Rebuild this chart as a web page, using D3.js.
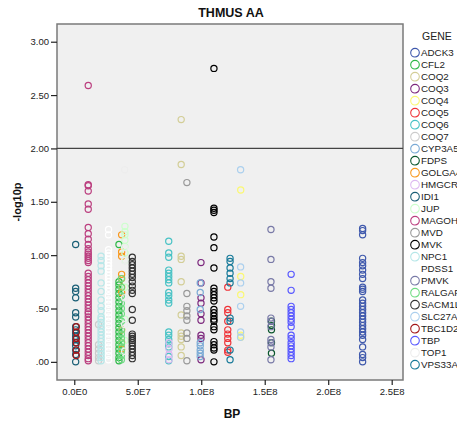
<!DOCTYPE html>
<html lang="en">
<head>
<meta charset="UTF-8">
<title>THMUS AA</title>
<script src="https://d3js.org/d3.v7.min.js"></script>
<style>
    body { margin: 0; background: #fff; font-family: "Liberation Sans", Arial, sans-serif; }
    .tick text { font-size: 9.5px; fill: #222; }
    .title, .axis-label { font-weight: bold; fill: #111; }
</style>
</head>
<body>
<div id="chart"></div>
<script>
    // Genes in legend order, and the base pair position of each gene
    const genes = ["ADCK3", "CFL2", "COQ2", "COQ3", "COQ4", "COQ5", "COQ6", "COQ7", "CYP3A5",
        "FDPS", "GOLGA4", "HMGCR", "IDI1", "JUP", "MAGOH", "MVD", "MVK", "NPC1", "PDSS1",
        "PMVK", "RALGAPB", "SACM1L", "SLC27A4", "TBC1D20", "TBP", "TOP1", "VPS33A"];

    const geneBP = [227.1e6, 35.2e6, 84.2e6, 99.8e6, 131.1e6, 120.9e6, 74.4e6, 19.1e6, 99.2e6,
        155.3e6, 37.3e6, 74.6e6, 1.1e6, 39.9e6, 11.0e6, 88.7e6, 110.0e6, 21.1e6, 27.0e6,
        154.9e6, 37.1e6, 45.7e6, 131.0e6, 1.6e6, 170.8e6, 39.66e6, 122.7e6];

    // -log10p values, one list per gene
    const logP = {
        ADCK3: [1.25, 1.23, 1.19, 0.97, 0.93, 0.90, 0.86, 0.82, 0.78, 0.70, 0.68, 0.66, 0.58, 0.55,
            0.52, 0.49, 0.46, 0.43, 0.40, 0.37, 0.34, 0.31, 0.28, 0.25, 0.21, 0.14, 0.07, 0.04, 0.00],
        CFL2: [1.10, 0.75, 0.72, 0.68, 0.64, 0.60, 0.56, 0.52, 0.48, 0.44, 0.40, 0.36, 0.32, 0.28,
            0.24, 0.20, 0.16, 0.12, 0.08, 0.04, 0.01],
        COQ2: [2.27, 1.85, 0.99, 0.96, 0.75, 0.44, 0.27, 0.24, 0.21, 0.14, 0.06],
        COQ3: [0.93, 0.74, 0.60, 0.55, 0.45, 0.39, 0.25, 0.22, 0.02],
        COQ4: [1.61, 0.80, 0.63, 0.25, 0.23],
        COQ5: [0.70, 0.49, 0.46, 0.38, 0.30, 0.26, 0.22, 0.18, 0.11, 0.09],
        COQ6: [1.13, 1.02, 0.98, 0.86, 0.83, 0.80, 0.77, 0.74, 0.65, 0.62, 0.58, 0.55, 0.28, 0.25,
            0.21, 0.17, 0.14, 0.05, 0.01],
        COQ7: [0.35, 0.16, 0.12, 0.08, 0.04, 0.01],
        CYP3A5: [0.74, 0.65, 0.49, 0.18, 0.15, 0.11, 0.08, 0.05],
        FDPS: [0.38, 0.34, 0.30, 0.18, 0.08],
        GOLGA4: [1.19, 1.03, 0.99, 0.82, 0.78, 0.70, 0.65, 0.30, 0.18, 0.12],
        HMGCR: [0.18, 0.12, 0.07, 0.02],
        IDI1: [1.10, 0.69, 0.66, 0.60, 0.46, 0.42, 0.33, 0.30, 0.27, 0.24, 0.21, 0.18, 0.15, 0.11,
            0.07, 0.00],
        JUP: [1.27, 1.22, 1.19, 1.14, 1.08, 1.02, 0.95, 0.70, 0.40, 0.20],
        MAGOH: [2.59, 1.66, 1.65, 1.60, 1.48, 1.43, 1.26, 1.20, 1.15, 1.10, 1.06, 1.03, 1.01, 0.99,
            0.97, 0.95, 0.93, 0.83, 0.80, 0.77, 0.74, 0.71, 0.68, 0.65, 0.62, 0.59, 0.56, 0.53, 0.50,
            0.47, 0.45, 0.42, 0.39, 0.36, 0.33, 0.30, 0.27, 0.24, 0.21, 0.18, 0.15, 0.12, 0.09, 0.06,
            0.03, 0.01],
        MVD: [1.68, 0.64, 0.52, 0.48, 0.43, 0.39, 0.27, 0.22, 0.01],
        MVK: [2.75, 1.44, 1.42, 1.40, 1.17, 1.07, 0.88, 0.69, 0.66, 0.63, 0.60, 0.57, 0.49, 0.46,
            0.43, 0.40, 0.38, 0.33, 0.30, 0.19, 0.16, 0.13, 0.11, 0.00],
        NPC1: [0.99, 0.95, 0.90, 0.85, 0.74, 0.66, 0.58, 0.52, 0.48, 0.42, 0.40, 0.37, 0.34, 0.31,
            0.28, 0.25, 0.22, 0.19, 0.16, 0.13, 0.10, 0.07, 0.04, 0.01],
        PDSS1: [1.24, 1.19, 1.05, 1.02, 0.99, 0.96, 0.93, 0.90, 0.87, 0.84, 0.81, 0.78, 0.75, 0.72,
            0.69, 0.66, 0.62, 0.58, 0.54, 0.50, 0.46, 0.42, 0.38, 0.34, 0.30, 0.26, 0.22, 0.18, 0.14,
            0.10, 0.06, 0.02],
        PMVK: [1.24, 0.96, 0.75, 0.69, 0.41, 0.38, 0.33, 0.21, 0.18, 0.14, 0.02],
        RALGAPB: [0.78, 0.70, 0.62, 0.55, 0.50, 0.45, 0.38, 0.30, 0.26, 0.22, 0.18, 0.14, 0.10,
            0.06, 0.02],
        SACM1L: [0.98, 0.94, 0.91, 0.88, 0.85, 0.82, 0.79, 0.75, 0.71, 0.67, 0.64, 0.49, 0.39, 0.26,
            0.24, 0.22, 0.20, 0.18, 0.15, 0.12, 0.09, 0.06, 0.03],
        SLC27A4: [1.80, 0.89, 0.74, 0.52, 0.28, 0.23],
        TBC1D20: [0.33, 0.28, 0.22, 0.18, 0.11, 0.06],
        TBP: [0.82, 0.67, 0.52, 0.49, 0.46, 0.43, 0.40, 0.37, 0.33, 0.25, 0.22, 0.18, 0.15, 0.12,
            0.09, 0.06, 0.03],
        TOP1: [1.80, 1.07, 0.95, 0.60, 0.35, 0.10],
        VPS33A: [0.97, 0.94, 0.88, 0.83, 0.78, 0.74, 0.41, 0.38, 0.11, 0.02]
    };

    const xTicks = [0, 5e7, 1e8, 1.5e8, 2e8, 2.5e8];
    const yTicks = [0, 0.5, 1, 1.5, 2, 2.5, 3];
    const refLine = 2.0;

    // default SPSS palette, in gene order
    const palette = ["#3e58ac", "#2eb848", "#d3ce97", "#7c287d", "#fbf873", "#ef3338", "#48c2c5",
        "#cccccc", "#7aaad5", "#0a562c", "#f8981d", "#ddbaf1", "#1a5f76", "#ccffcc", "#bb3f7f",
        "#999999", "#000000", "#b6e7e8", "#ffffff", "#797aa7", "#70dc84", "#333333", "#acd0ee",
        "#a21619", "#5858ff", "#ededed", "#187a99"];

    const W = 457, H = 425;
    const plot = { left: 57, right: 403, top: 24, bottom: 380 };

    const svg = d3.select("#chart").append("svg")
        .attr("width", W).attr("height", H);

    const x = d3.scaleLinear().domain([-1.36e7, 2.589e8]).range([plot.left, plot.right]);
    const y = d3.scaleLinear().domain([-0.17, 3.166]).range([plot.bottom, plot.top]);
    const color = d3.scaleOrdinal().domain(genes).range(palette);

    svg.append("rect")
        .attr("x", plot.left).attr("y", plot.top)
        .attr("width", plot.right - plot.left).attr("height", plot.bottom - plot.top)
        .attr("fill", "#f0f0f0").attr("stroke", "#7a7a7a").attr("stroke-width", 1.5);

    const fmtX = d => d3.format(".1e")(d).replace("e+", "E").replace("e", "E");
    const fmtY = d => d3.format(".2f")(d).replace(/^0/, "");

    const xAxis = svg.append("g")
        .attr("transform", `translate(0,${plot.bottom})`)
        .call(d3.axisBottom(x).tickValues(xTicks).tickFormat(fmtX).tickSize(5).tickPadding(3));
    const yAxis = svg.append("g")
        .attr("transform", `translate(${plot.left},0)`)
        .call(d3.axisLeft(y).tickValues(yTicks).tickFormat(fmtY).tickSize(6).tickPadding(2));
    [xAxis, yAxis].forEach(a => {
        a.select(".domain").remove();
        a.selectAll(".tick line").attr("stroke", "#222").attr("stroke-width", 1.2);
    });

    // reference line
    svg.append("line")
        .attr("x1", plot.left).attr("x2", plot.right)
        .attr("y1", y(refLine)).attr("y2", y(refLine))
        .attr("stroke", "#444").attr("stroke-width", 1.2);

    const points = [];
    genes.forEach((g, i) => logP[g].forEach(v => points.push({ gene: g, bp: geneBP[i], v: v })));

    svg.append("g").selectAll("circle")
        .data(points)
        .enter().append("circle")
        .attr("cx", d => x(d.bp))
        .attr("cy", d => y(d.v))
        .attr("r", 3.1)
        .attr("fill", "none")
        .attr("stroke", d => color(d.gene))
        .attr("stroke-width", 1.2);

    svg.append("text").attr("class", "title")
        .attr("x", 231).attr("y", 17).attr("text-anchor", "middle")
        .style("font-size", "12.5px").text("THMUS AA");

    svg.append("text").attr("class", "axis-label")
        .attr("x", 232).attr("y", 418).attr("text-anchor", "middle")
        .style("font-size", "12px").text("BP");

    svg.append("text").attr("class", "axis-label")
        .attr("transform", `translate(21,${(plot.top + plot.bottom) / 2}) rotate(-90)`)
        .attr("text-anchor", "middle")
        .style("font-size", "11px").text("-log10p");

    // legend
    const legend = svg.append("g");
    legend.append("text")
        .attr("x", 422).attr("y", 40)
        .style("font-size", "10.5px").attr("fill", "#222").text("GENE");

    const items = legend.selectAll(".item")
        .data(genes)
        .enter().append("g")
        .attr("class", "item")
        .attr("transform", (d, i) => `translate(0,${52.7 + i * 12})`);
    items.append("circle")
        .attr("cx", 415).attr("cy", 0).attr("r", 4.3)
        .attr("fill", "none").attr("stroke", d => color(d)).attr("stroke-width", 1.1);
    items.append("text")
        .attr("x", 421).attr("y", 3.5)
        .style("font-size", "9.8px").attr("fill", "#222")
        .text(d => d);
</script>
</body>
</html>
